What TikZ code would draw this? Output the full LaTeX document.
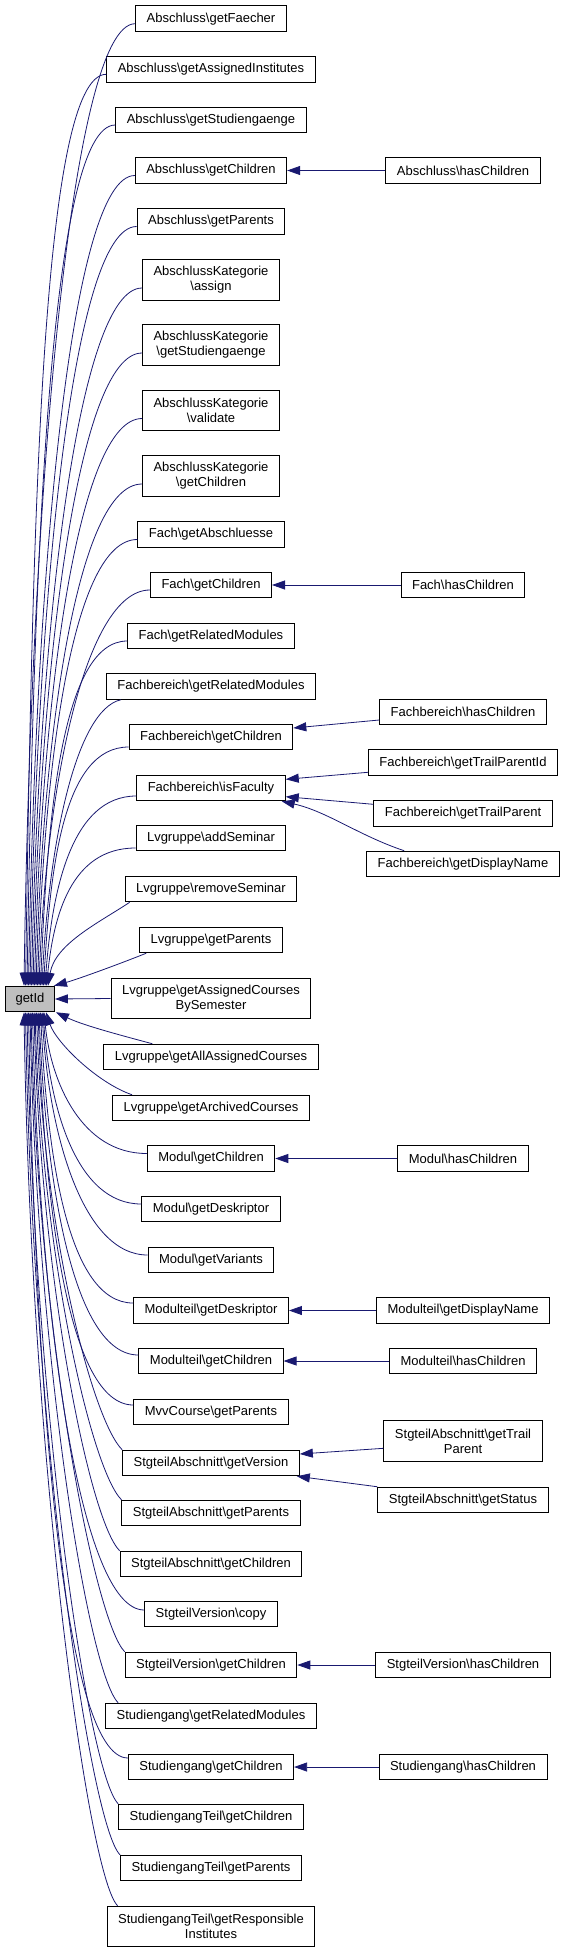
\documentclass[tikz,border=0pt]{standalone}
\usepackage{fontspec}
\setmainfont{Liberation Sans}
\usetikzlibrary{arrows.meta}
\definecolor{dotblue}{HTML}{191970}
\newcommand{\bsl}{\textbackslash}

\begin{document}
\begin{tikzpicture}[x=1pt,y=1pt,
  fn/.style={draw=black,line width=1pt,fill=white,inner xsep=11pt,inner ysep=2pt,
    minimum height=25.5pt,align=center,font=\fontsize{13}{15}\selectfont},
  fn2/.style={fn,minimum height=40.5pt},
  root/.style={fn,fill=black!25,inner xsep=10pt},
  call/.style={draw=dotblue,line width=0.8pt,-{Triangle[length=13pt,width=9pt]}}]
\useasboundingbox (0,0) rectangle (567,-1953);
% the called function
\node[root] (getid) at (30,-999) {getId};
% callers, left column
\node[fn] (a1) at (211,-18.7) {Abschluss\bsl getFaecher};
\node[fn] (a2) at (211,-69.3) {Abschluss\bsl getAssignedInstitutes};
\node[fn] (a3) at (211,-120) {Abschluss\bsl getStudiengaenge};
\node[fn] (a4) at (211,-170.5) {Abschluss\bsl getChildren};
\node[fn] (a5) at (211,-221.5) {Abschluss\bsl getParents};
\node[fn2] (ak1) at (211,-280) {AbschlussKategorie\\\bsl assign};
\node[fn2] (ak2) at (211,-345) {AbschlussKategorie\\\bsl getStudiengaenge};
\node[fn2] (ak3) at (211,-410.5) {AbschlussKategorie\\\bsl validate};
\node[fn2] (ak4) at (211,-476) {AbschlussKategorie\\\bsl getChildren};
\node[fn] (f1) at (211,-534.5) {Fach\bsl getAbschluesse};
\node[fn] (f2) at (211,-585) {Fach\bsl getChildren};
\node[fn] (f3) at (211,-636) {Fach\bsl getRelatedModules};
\node[fn] (fb1) at (211,-686.5) {Fachbereich\bsl getRelatedModules};
\node[fn] (fb2) at (211,-737) {Fachbereich\bsl getChildren};
\node[fn] (fb3) at (211,-788) {Fachbereich\bsl isFaculty};
\node[fn] (lv1) at (211,-838) {Lvgruppe\bsl addSeminar};
\node[fn] (lv2) at (211,-889) {Lvgruppe\bsl removeSeminar};
\node[fn] (lv3) at (211,-940) {Lvgruppe\bsl getParents};
\node[fn2] (lv4) at (211,-998.5) {Lvgruppe\bsl getAssignedCourses\\BySemester};
\node[fn] (lv5) at (211,-1057) {Lvgruppe\bsl getAllAssignedCourses};
\node[fn] (lv6) at (211,-1108) {Lvgruppe\bsl getArchivedCourses};
\node[fn] (m1) at (211,-1158.5) {Modul\bsl getChildren};
\node[fn] (m2) at (211,-1209) {Modul\bsl getDeskriptor};
\node[fn] (m3) at (211,-1260) {Modul\bsl getVariants};
\node[fn] (mt1) at (211,-1310.5) {Modulteil\bsl getDeskriptor};
\node[fn] (mt2) at (211,-1361) {Modulteil\bsl getChildren};
\node[fn] (mc1) at (211,-1412) {MvvCourse\bsl getParents};
\node[fn] (sa1) at (211,-1463) {StgteilAbschnitt\bsl getVersion};
\node[fn] (sa2) at (211,-1513) {StgteilAbschnitt\bsl getParents};
\node[fn] (sa3) at (211,-1564) {StgteilAbschnitt\bsl getChildren};
\node[fn] (sv1) at (211,-1614) {StgteilVersion\bsl copy};
\node[fn] (sv2) at (211,-1665) {StgteilVersion\bsl getChildren};
\node[fn] (sg1) at (211,-1716) {Studiengang\bsl getRelatedModules};
\node[fn] (sg2) at (211,-1767) {Studiengang\bsl getChildren};
\node[fn] (st1) at (211,-1817) {StudiengangTeil\bsl getChildren};
\node[fn] (st2) at (211,-1868) {StudiengangTeil\bsl getParents};
\node[fn2] (st3) at (211,-1926.5) {StudiengangTeil\bsl getResponsible\\Institutes};
% callers, right column
\node[fn] (ahas) at (463,-170.5) {Abschluss\bsl hasChildren};
\node[fn] (fhas) at (463,-585) {Fach\bsl hasChildren};
\node[fn] (fbhas) at (463,-712) {Fachbereich\bsl hasChildren};
\node[fn] (fbtpid) at (463,-762.7) {Fachbereich\bsl getTrailParentId};
\node[fn] (fbtp) at (463,-813.3) {Fachbereich\bsl getTrailParent};
\node[fn] (fbdn) at (463,-864) {Fachbereich\bsl getDisplayName};
\node[fn] (mhas) at (463,-1158.5) {Modul\bsl hasChildren};
\node[fn] (mtdn) at (463,-1310.5) {Modulteil\bsl getDisplayName};
\node[fn] (mthas) at (463,-1361) {Modulteil\bsl hasChildren};
\node[fn2] (satp) at (463,-1441) {StgteilAbschnitt\bsl getTrail\\Parent};
\node[fn] (sast) at (463,-1500) {StgteilAbschnitt\bsl getStatus};
\node[fn] (svhas) at (463,-1665) {StgteilVersion\bsl hasChildren};
\node[fn] (sghas) at (463,-1767) {Studiengang\bsl hasChildren};
% calls into getId from above
\draw[call] ([yshift=-5pt]a1.west) .. controls +(-65,0) and +(7,481) .. ([xshift=-6pt]getid.north);
\draw[call] ([yshift=-5pt]a2.west) .. controls +(-65,0) and +(7,456) .. ([xshift=-4.5pt]getid.north);
\draw[call] ([yshift=-5pt]a3.west) .. controls +(-65,0) and +(7,430) .. ([xshift=-3pt]getid.north);
\draw[call] ([yshift=-5pt]a4.west) .. controls +(-65,0) and +(7,405) .. ([xshift=-1.5pt]getid.north);
\draw[call] ([yshift=-5pt]a5.west) .. controls +(-65,0) and +(7,380) .. (getid.north);
\draw[call] ([yshift=-8pt]ak1.west) .. controls +(-65,0) and +(7,349) .. ([xshift=1.5pt]getid.north);
\draw[call] ([yshift=-8pt]ak2.west) .. controls +(-65,0) and +(7,316) .. ([xshift=3pt]getid.north);
\draw[call] ([yshift=-8pt]ak3.west) .. controls +(-65,0) and +(7,284) .. ([xshift=4.5pt]getid.north);
\draw[call] ([yshift=-8pt]ak4.west) .. controls +(-65,0) and +(7,251) .. ([xshift=6pt]getid.north);
\draw[call] ([yshift=-5pt]f1.west) .. controls +(-65,0) and +(7,223) .. ([xshift=7.5pt]getid.north);
\draw[call] ([yshift=-5pt]f2.west) .. controls +(-65,0) and +(7,198) .. ([xshift=9pt]getid.north);
\draw[call] ([yshift=-5pt]f3.west) .. controls +(-65,0) and +(7,172) .. ([xshift=10.5pt]getid.north);
\draw[call] ([xshift=15pt]fb1.south west) .. controls +(-45,-10) and +(7,143) .. ([xshift=12pt]getid.north);
\draw[call] ([yshift=-10pt]fb2.west) .. controls +(-65,0) and +(7,120) .. ([xshift=13.5pt]getid.north);
\draw[call] ([yshift=-8pt]fb3.west) .. controls +(-65,0) and +(7,95) .. ([xshift=15pt]getid.north);
\draw[call] ([yshift=-10pt]lv1.west) .. controls +(-65,0) and +(7,69) .. ([xshift=16.5pt]getid.north);
\draw[call] ([xshift=5pt]lv2.south west) .. controls +(-30,-20) and +(7,42) .. ([xshift=18pt]getid.north);
\draw[call] ([xshift=7pt]lv3.south west) .. controls +(-30,-12) and +(22,6) .. ([xshift=-1pt]getid.north east);
\draw[call] (lv4.west) -- (getid.east);
% calls into getId from below
\draw[call] ([xshift=49pt]lv5.north west) .. controls +(-45,12) and +(25,-12) .. ([xshift=1pt]getid.south east);
\draw[call] ([xshift=20pt]lv6.north west) .. controls +(-35,12) and +(10,-30) .. ([xshift=16pt]getid.south);
\draw[call] ([yshift=5pt]m1.west) .. controls +(-65,0) and +(7,-70.5) .. ([xshift=14pt]getid.south);
\draw[call] ([yshift=5pt]m2.west) .. controls +(-65,0) and +(7,-96) .. ([xshift=13pt]getid.south);
\draw[call] ([yshift=5pt]m3.west) .. controls +(-65,0) and +(7,-121.5) .. ([xshift=12pt]getid.south);
\draw[call] ([yshift=7.5pt]mt1.west) .. controls +(-65,0) and +(7,-145.5) .. ([xshift=10.5pt]getid.south);
\draw[call] ([yshift=6pt]mt2.west) .. controls +(-65,0) and +(7,-171.5) .. ([xshift=9pt]getid.south);
\draw[call] ([yshift=7pt]mc1.west) .. controls +(-65,0) and +(7,-196.5) .. ([xshift=8pt]getid.south);
\draw[call] (sa1.north west) .. controls +(-30,30) and +(7,-219) .. ([xshift=6.5pt]getid.south);
\draw[call] (sa2.north west) .. controls +(-30,30) and +(7,-244) .. ([xshift=5pt]getid.south);
\draw[call] (sa3.north west) .. controls +(-30,30) and +(7,-269.5) .. ([xshift=4pt]getid.south);
\draw[call] ([yshift=4pt]sv1.west) .. controls +(-65,0) and +(7,-299) .. ([xshift=2.5pt]getid.south);
\draw[call] (sv2.north west) .. controls +(-30,30) and +(7,-320.5) .. ([xshift=1pt]getid.south);
\draw[call] ([xshift=13pt]sg1.north west) .. controls +(-30,30) and +(7,-345.5) .. (getid.south);
\draw[call] ([yshift=9pt]sg2.west) .. controls +(-65,0) and +(7,-373) .. ([xshift=-1.5pt]getid.south);
\draw[call] (st1.north west) .. controls +(-30,30) and +(7,-396.5) .. ([xshift=-3pt]getid.south);
\draw[call] (st2.north west) .. controls +(-30,30) and +(7,-421.5) .. ([xshift=-4.5pt]getid.south);
\draw[call] ([xshift=11pt]st3.north west) .. controls +(-30,30) and +(7,-447) .. ([xshift=-6pt]getid.south);
% second level calls
\draw[call] (ahas.west) -- (a4.east);
\draw[call] (fhas.west) -- (f2.east);
\draw[call] ([yshift=-8pt]fbhas.west) -- ([yshift=9pt]fb2.east);
\draw[call] ([yshift=-9.6pt]fbtpid.west) -- ([yshift=8.7pt]fb3.east);
\draw[call] ([yshift=9pt]fbtp.west) -- ([yshift=-8.7pt]fb3.east);
\draw[call] ([xshift=38pt]fbdn.north west) .. controls +(-45,15) and +(45,-10) .. ([xshift=-4pt]fb3.south east);
\draw[call] (mhas.west) -- (m1.east);
\draw[call] (mtdn.west) -- (mt1.east);
\draw[call] (mthas.west) -- (mt2.east);
\draw[call] ([yshift=-7.3pt]satp.west) -- ([yshift=9pt]sa1.east);
\draw[call] (sast.north west) -- ([xshift=-3pt]sa1.south east);
\draw[call] (svhas.west) -- (sv2.east);
\draw[call] (sghas.west) -- (sg2.east);
\end{tikzpicture}
\end{document}
